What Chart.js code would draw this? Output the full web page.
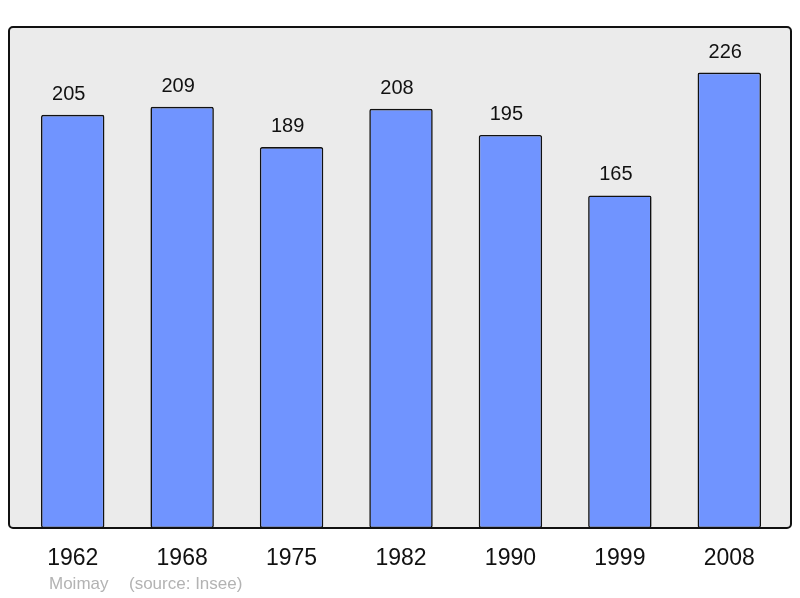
<!DOCTYPE html>
<html>
<head>
<meta charset="utf-8">
<script src="https://cdn.jsdelivr.net/npm/chart.js@4"></script>
<style>
  html, body { margin: 0; padding: 0; background: #fff; }
  #wrap { width: 800px; height: 598px; }
</style>
</head>
<body>
<div id="wrap"><canvas id="popChart" width="800" height="598"></canvas></div>
<script>
// ===== Data =====
const years = ["1962", "1968", "1975", "1982", "1990", "1999", "2008"];
const population = [205, 209, 189, 208, 195, 165, 226];
const footerName = "Moimay";
const footerSource = "(source: Insee)";

const FONT = "'Liberation Sans', Arial, sans-serif";

// ===== Grey panel behind the bars + labels =====
const panelPlugin = {
  id: "panel",
  beforeDatasetsDraw(chart) {
    const { ctx, chartArea: a } = chart;
    ctx.save();
    ctx.beginPath();
    ctx.roundRect(a.left - 9, a.top, a.right - a.left + 16, a.bottom - a.top, 4);
    ctx.fillStyle = "#ebebeb";
    ctx.fill();
    ctx.restore();
  },
  afterDatasetsDraw(chart) {
    const { ctx, chartArea: a } = chart;
    ctx.save();
    ctx.beginPath();
    ctx.roundRect(a.left - 9, a.top, a.right - a.left + 16, a.bottom - a.top, 4);
    ctx.lineWidth = 2;
    ctx.strokeStyle = "#111";
    ctx.stroke();

    // value labels above each bar (sit a little left of bar centre)
    const meta = chart.getDatasetMeta(0);
    ctx.fillStyle = "#111";
    ctx.font = "20px " + FONT;
    ctx.textAlign = "center";
    ctx.textBaseline = "alphabetic";
    meta.data.forEach((bar, i) => {
      ctx.fillText(population[i], bar.x - 4, bar.y - 15);
    });

    // footer
    ctx.fillStyle = "#b3b3b3";
    ctx.font = "17px " + FONT;
    ctx.textAlign = "left";
    ctx.textBaseline = "middle";
    ctx.fillText(footerName, 49, 584);
    ctx.fillText(footerSource, 129, 584);
    ctx.restore();
  }
};

// ===== Bar Chart =====
const ctx = document.getElementById("popChart").getContext("2d");
new Chart(ctx, {
  type: "bar",
  data: {
    labels: years,
    datasets: [{
      data: population,
      backgroundColor: "#7094ff",
      borderColor: "#111",
      borderWidth: 1.6,
      borderRadius: 2,
      borderSkipped: false,
      barPercentage: 0.58,
      categoryPercentage: 1
    }]
  },
  options: {
    responsive: false,
    animation: false,
    layout: { padding: { top: 27, left: 18, right: 16, bottom: 0 } },
    plugins: {
      legend: { display: false },
      tooltip: { enabled: false }
    },
    scales: {
      x: {
        offset: true,
        grid: { display: false, drawTicks: false },
        border: { display: false },
        ticks: { color: "#111", font: { family: FONT, size: 23 }, padding: 17, maxRotation: 0 },
        afterFit: (axis) => { axis.height = 70; }
      },
      y: {
        display: false,
        min: 0,
        max: 248.6
      }
    }
  },
  plugins: [panelPlugin]
});
</script>
</body>
</html>
